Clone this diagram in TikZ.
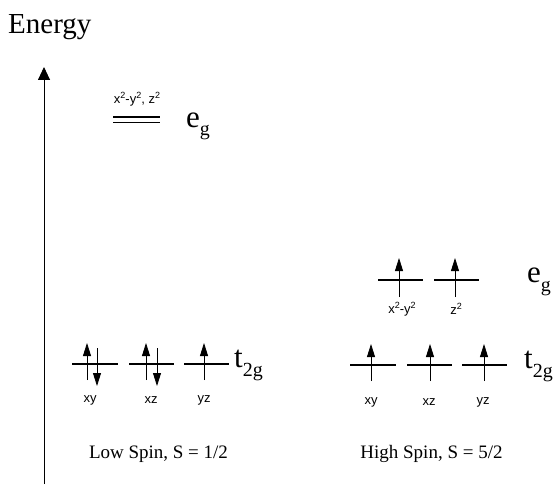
\documentclass[tikz,border=0pt]{standalone}
\usepackage{fontspec}
\setmainfont{Liberation Serif}
\setsansfont{Liberation Sans}
\usetikzlibrary{arrows.meta}
\newcommand{\orb}[1]{{\sffamily\fontsize{13}{13}\selectfont #1}}
\newcommand{\sym}[2]{{\fontsize{31}{31}\selectfont #1\raisebox{-9pt}{\fontsize{20}{20}\selectfont #2}}}
\newcommand{\sq}{\raisebox{0.42em}{\fontsize{9}{9}\selectfont 2}}

\begin{document}
\begin{tikzpicture}[x=1pt,y=-1pt,
  level/.style={line width=1.8pt},
  spin/.style={line width=0.8pt,-{Triangle[width=8pt,length=13pt]}}]
  \useasboundingbox (0,0) rectangle (556,484);
  % energy axis
  \node[anchor=base west,inner sep=0] (energy) at (8,34) {\fontsize{29}{29}\selectfont Energy};
  \coordinate (axbot) at (44,484); \coordinate (axtop) at (44,67);
  \draw[line width=0.9pt,-{Triangle[width=12pt,length=13pt]}] (axbot) -- (axtop);
  % low spin: empty e_g pair
  \draw[level] (113,117) -- (160,117); \draw[level] (113,122.5) -- (160,122.5);
  \node[inner sep=0] (egorb) at (137,99) {\orb{x\sq-y\sq, z\sq}};
  \node[anchor=base west,inner sep=0] (eglow) at (186,127) {\sym{e}{g}};
  % low spin: t_2g
  \draw[level] (72,364) -- (118,364); \draw[level] (129,364) -- (174,364); \draw[level] (184,364) -- (229,364);
  \draw[spin] (87,380) -- (87,343); \draw[spin] (97,348) -- (97,386);
  \draw[spin] (146,380) -- (146,343); \draw[spin] (157,348) -- (157,386);
  \draw[spin] (204,380) -- (204,343);
  \node[inner sep=0] (xylow) at (90,400) {\orb{xy}};
  \node[inner sep=0] (xzlow) at (151,400) {\orb{xz}};
  \node[inner sep=0] (yzlow) at (204,400) {\orb{yz}};
  \node[anchor=base west,inner sep=0] (tlow) at (234,367) {\sym{t}{2g}};
  \node[anchor=base,inner sep=0] (lowspin) at (158.5,458) {\fontsize{19}{19}\selectfont Low Spin, S = 1/2};
  % high spin: e_g
  \draw[level] (378,280) -- (423,280); \draw[level] (434,280) -- (479,280);
  \draw[spin] (399,297) -- (399,258); \draw[spin] (455,297) -- (455,258);
  \node[inner sep=0] (x2y2) at (402,309) {\orb{x\sq-y\sq}};
  \node[inner sep=0] (z2) at (456,309) {\orb{z\sq}};
  \node[anchor=base west,inner sep=0] (eghigh) at (527,282) {\sym{e}{g}};
  % high spin: t_2g
  \draw[level] (350,365) -- (396,365); \draw[level] (407,365) -- (452,365); \draw[level] (462,365) -- (507,365);
  \draw[spin] (371,381) -- (371,344); \draw[spin] (430,381) -- (430,344); \draw[spin] (484,381) -- (484,344);
  \node[inner sep=0] (xyhigh) at (371,402) {\orb{xy}};
  \node[inner sep=0] (xzhigh) at (429,402) {\orb{xz}};
  \node[inner sep=0] (yzhigh) at (483,402) {\orb{yz}};
  \node[anchor=base west,inner sep=0] (thigh) at (524,368) {\sym{t}{2g}};
  \node[anchor=base,inner sep=0] (highspin) at (431.5,458) {\fontsize{19}{19}\selectfont High Spin, S = 5/2};
\end{tikzpicture}
\end{document}
